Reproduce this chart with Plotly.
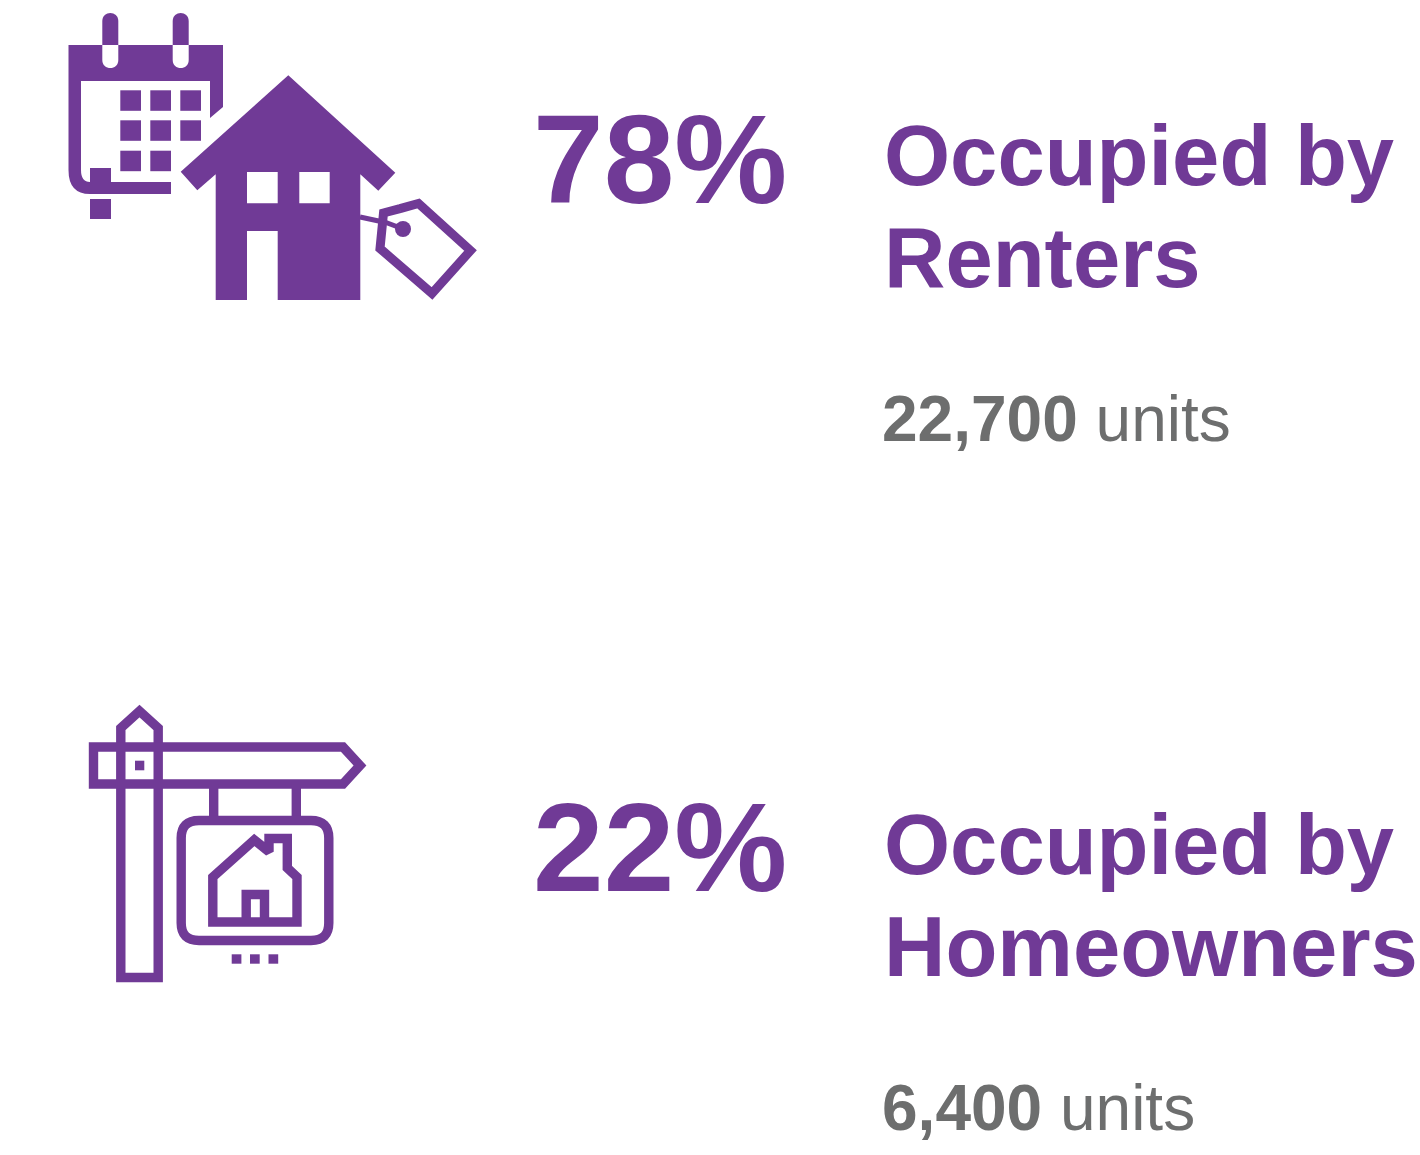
import plotly.graph_objects as go

# ---- data ----
percents = [78, 22]
unit_counts = [22700, 6400]
label_top = ["Occupied by", "Occupied by"]
label_bottom = ["Renters", "Homeowners"]

PURPLE = "#703a96"
GREY = "#6d6e6e"
FONT = "Liberation Sans"
W, H = 1420, 1155

# vertical text positions (pixels from top), one row per group
pct_y = [205, 893]
top_y = [186, 875]
bot_y = [288, 977]
unit_y = [443, 1132]

fig = go.Figure()


def fill(path, color=PURPLE):
    fig.add_shape(type="path", path=path, fillcolor=color, line_width=0, layer="above")


def outline(xs, ys, width=9.4):
    fig.add_trace(go.Scatter(x=xs, y=ys, mode="lines", hoverinfo="skip", showlegend=False,
                             line=dict(color=PURPLE, width=width)))


def rect(x0, y0, x1, y1):
    return f"M{x0},{y0}L{x1},{y0}L{x1},{y1}L{x0},{y1}Z"


# ---- calendar icon ----
fill("M68.5,45 L223,45 L223,107 L210,118 L210,81 L81,81 L81,170 Q81,182 90,182 L90,168 L111,168 L111,182 "
     "L171,182 L171,194 L90,194 Q68.5,194 68.5,170 Z")
fill(rect(90, 199, 111, 219))
for rx in (102.3, 172.7):
    fill(f"M{rx},45 L{rx},21 C{rx},10.3 {rx+16},10.3 {rx+16},21 L{rx+16},45 Z")
    fill(f"M{rx},45 L{rx+16},45 L{rx+16},60 C{rx+16},70.7 {rx},70.7 {rx},60 Z", "#ffffff")
for cx, cy in [(120.3, 90.3), (150.3, 90.3), (180.3, 90.3),
               (120.3, 120.3), (150.3, 120.3), (180.3, 120.3),
               (120.3, 150.7), (150.3, 150.7)]:
    fill(rect(cx, cy, cx + 20.7, cy + 20.5))

# ---- house with tag ----
fill("M288.3,75.3 L395.3,172.7 L378.3,190.7 L360.3,174.3 L360.3,300 L215.7,300 L215.7,174.3 L197.3,190.3 "
     "L180.7,171.7 Z "
     + rect(247, 172, 277.7, 203.3) + rect(299.3, 172, 329.7, 203.3)
     + "M247,231 L277.7,231 L277.7,300 L247,300 Z")
outline([360, 381], [217, 221.5], 5)
outline([386, 402], [222.5, 228.5], 5)
fig.add_shape(type="circle", x0=395, x1=411, y0=221, y1=237, fillcolor=PURPLE, line_width=0)
outline([400, 418.5, 470.5, 432, 380, 383.5, 400], [208.7, 203.5, 250.5, 293.5, 248.5, 213, 208.7], 9)

# ---- for-sale sign icon ----
outline([139, 120.8, 120.8, 139.5, 158.2, 158.2, 139],
        [977.5, 977.5, 728, 711, 728, 977.5, 977.5])
outline([200, 343, 360, 343, 93.5, 93.5, 200], [747, 747, 765.5, 784, 784, 747, 747])
fill(rect(135, 760.7, 144.3, 770.3))
outline([213.7, 213.7], [784, 820])
outline([296.3, 296.3], [784, 820])
fig.add_shape(type="path", line=dict(color=PURPLE, width=9.4), fillcolor="rgba(0,0,0,0)",
              path="M199,820.5 L311,820.5 Q328.8,820.5 328.8,838 L328.8,923 Q328.8,940.5 311,940.5 "
                   "L199,940.5 Q181.2,940.5 181.2,923 L181.2,838 Q181.2,820.5 199,820.5 Z")
outline([230, 212.8, 212.8, 254.3, 269, 269, 287.3, 287.3, 297, 297, 230],
        [922, 922, 877, 840, 851.7, 838.5, 838.5, 868, 877, 922, 922])
outline([246.2, 246.2, 264.5, 264.5], [922, 894.5, 894.5, 922])
for dx in (231.7, 250, 268.5):
    fill(rect(dx, 954.3, dx + 9.7, 963.7))

# ---- text ----


def text(x, y, s, size, color):
    fig.add_annotation(x=x, y=y, text=s, showarrow=False, xanchor="left", yanchor="bottom",
                       xref="x", yref="y", align="left",
                       font=dict(family=FONT, size=size, color=color))


for i in range(2):
    text(531, pct_y[i] + 27, f"<b>{percents[i]}%</b>", 127, PURPLE)
    text(881.5, top_y[i] + 19, f"<b>{label_top[i]}</b>", 85, PURPLE)
    text(882, bot_y[i] + 19, f"<b>{label_bottom[i]}</b>", 85, PURPLE)
    text(880, unit_y[i] + 14, f"<b>{unit_counts[i]:,}</b> units", 64, GREY)

fig.update_layout(
    width=W, height=H, margin=dict(l=0, r=0, t=0, b=0),
    paper_bgcolor="#ffffff", plot_bgcolor="#ffffff", showlegend=False,
    xaxis=dict(range=[0, W], visible=False, fixedrange=True),
    yaxis=dict(range=[H, 0], visible=False, fixedrange=True),
)
fig.write_html("out.html", config={"displayModeBar": False},
               post_script="document.body.style.margin='0';document.body.style.overflow='hidden';")
